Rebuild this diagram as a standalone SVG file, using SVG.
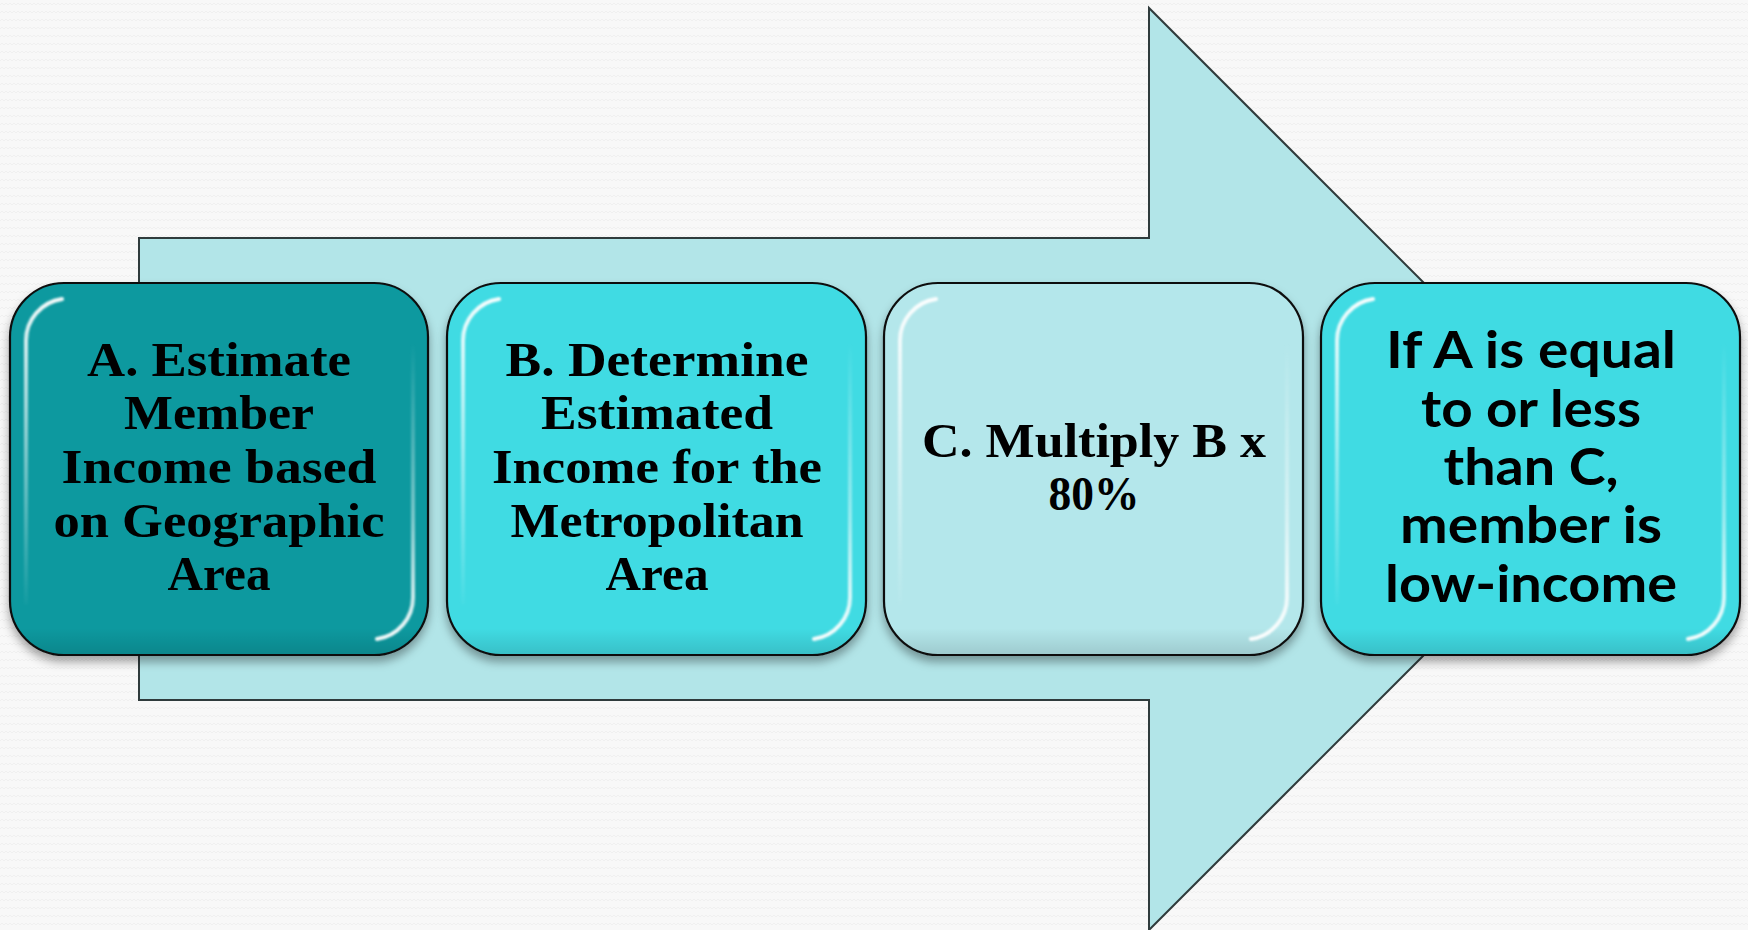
<svg xmlns="http://www.w3.org/2000/svg" width="1748" height="930" viewBox="0 0 1748 930">
  <defs>
    <pattern id="bgpat" width="8" height="8" patternUnits="userSpaceOnUse">
      <rect width="8" height="8" fill="#f8f8f8"/>
      <path d="M0 5 L2 3 L4 5 L6 3 L8 5" fill="none" stroke="#ededed" stroke-width="0.8"/>
    </pattern>
    <filter id="shadow" x="-10%" y="-10%" width="120%" height="125%">
      <feDropShadow dx="0" dy="6" stdDeviation="5" flood-color="#000" flood-opacity="0.35"/>
    </filter>
    <filter id="soft" x="-20%" y="-20%" width="140%" height="140%">
      <feGaussianBlur stdDeviation="0.8"/>
    </filter>
    <linearGradient id="hlL" gradientUnits="userSpaceOnUse" x1="0" y1="20" x2="0" y2="330">
      <stop offset="0" stop-color="#fff" stop-opacity="0.95"/>
      <stop offset="0.5" stop-color="#fff" stop-opacity="0.45"/>
      <stop offset="1" stop-color="#fff" stop-opacity="0"/>
    </linearGradient>
    <linearGradient id="hlR" gradientUnits="userSpaceOnUse" x1="0" y1="60" x2="0" y2="350">
      <stop offset="0" stop-color="#fff" stop-opacity="0"/>
      <stop offset="0.6" stop-color="#fff" stop-opacity="0.45"/>
      <stop offset="1" stop-color="#fff" stop-opacity="0.95"/>
    </linearGradient>
    <linearGradient id="shade" x1="0" y1="0" x2="0" y2="1">
      <stop offset="0" stop-color="#000" stop-opacity="0"/>
      <stop offset="0.93" stop-color="#000" stop-opacity="0"/>
      <stop offset="1" stop-color="#000" stop-opacity="0.12"/>
    </linearGradient>
    <g id="gloss">
      <path d="M 52 16 A 42 42 0 0 0 16 58 L 16 320" fill="none" stroke="url(#hlL)" stroke-width="4" stroke-linecap="round" filter="url(#soft)"/>
      <path d="M 403 60 L 403 314 A 42 42 0 0 1 367 356" fill="none" stroke="url(#hlR)" stroke-width="4" stroke-linecap="round" filter="url(#soft)"/>
    </g>
  </defs>
  <style>
    .box { stroke: #111; stroke-width: 2.2; }
    .a { fill: #07999f; }
    .b { fill: #40dbe3; }
    .c { fill: #b4e7eb; }
    .sh { fill: url(#shade); stroke: none; }
    .serif { font-family: "Liberation Serif", "Times New Roman", serif; font-weight: bold; font-size: 48px; fill: #000; text-anchor: middle; }
    .sans { font-family: Lato, "Open Sans", "Liberation Sans", sans-serif; font-weight: bold; font-size: 52px; fill: #000; text-anchor: middle; }
  </style>

  <rect width="1748" height="930" fill="url(#bgpat)"/>

  <g id="background-arrow">
    <path d="M139 238 L1149 238 L1149 8 L1610 469 L1149 930 L1149 700 L139 700 Z" fill="#b2e5e8" stroke="#2f3b3c" stroke-width="2"/>
  </g>

  <g id="connectors"></g>

  <g id="node-a">
    <rect class="box a" x="10" y="283" width="418" height="372" rx="54" filter="url(#shadow)"/>
    <rect class="sh" x="11" y="284" width="416" height="370" rx="53"/>
    <use href="#gloss" x="10" y="283"/>
    <text class="serif" x="219" y="376" textLength="264" lengthAdjust="spacingAndGlyphs">A. Estimate</text>
    <text class="serif" x="219" y="429" textLength="190" lengthAdjust="spacingAndGlyphs">Member</text>
    <text class="serif" x="219" y="483" textLength="315" lengthAdjust="spacingAndGlyphs">Income based</text>
    <text class="serif" x="219" y="537" textLength="331" lengthAdjust="spacingAndGlyphs">on Geographic</text>
    <text class="serif" x="219" y="590" textLength="103" lengthAdjust="spacingAndGlyphs">Area</text>
  </g>

  <g id="node-b">
    <rect class="box b" x="447" y="283" width="419" height="372" rx="54" filter="url(#shadow)"/>
    <rect class="sh" x="448" y="284" width="417" height="370" rx="53"/>
    <use href="#gloss" x="447" y="283"/>
    <text class="serif" x="657" y="376" textLength="303" lengthAdjust="spacingAndGlyphs">B. Determine</text>
    <text class="serif" x="657" y="429" textLength="232" lengthAdjust="spacingAndGlyphs">Estimated</text>
    <text class="serif" x="657" y="483" textLength="330" lengthAdjust="spacingAndGlyphs">Income for the</text>
    <text class="serif" x="657" y="537" textLength="293" lengthAdjust="spacingAndGlyphs">Metropolitan</text>
    <text class="serif" x="657" y="590" textLength="103" lengthAdjust="spacingAndGlyphs">Area</text>
  </g>

  <g id="node-c">
    <rect class="box c" x="884" y="283" width="419" height="372" rx="54" filter="url(#shadow)"/>
    <rect class="sh" x="885" y="284" width="417" height="370" rx="53"/>
    <use href="#gloss" x="884" y="283"/>
    <text class="serif" x="1094" y="457" textLength="344" lengthAdjust="spacingAndGlyphs">C. Multiply B x</text>
    <text class="serif" x="1094" y="510" textLength="91" lengthAdjust="spacingAndGlyphs">80%</text>
  </g>

  <g id="node-d">
    <rect class="box b" x="1321" y="283" width="419" height="372" rx="54" filter="url(#shadow)"/>
    <rect class="sh" x="1322" y="284" width="417" height="370" rx="53"/>
    <use href="#gloss" x="1321" y="283"/>
    <text class="sans" x="1531" y="368" textLength="290" lengthAdjust="spacingAndGlyphs">If A is equal</text>
    <text class="sans" x="1531" y="427" textLength="220" lengthAdjust="spacingAndGlyphs">to or less</text>
    <text class="sans" x="1531" y="485" textLength="175" lengthAdjust="spacingAndGlyphs">than C,</text>
    <text class="sans" x="1531" y="543" textLength="262" lengthAdjust="spacingAndGlyphs">member is</text>
    <text class="sans" x="1531" y="602" textLength="292" lengthAdjust="spacingAndGlyphs">low-income</text>
  </g>
</svg>
